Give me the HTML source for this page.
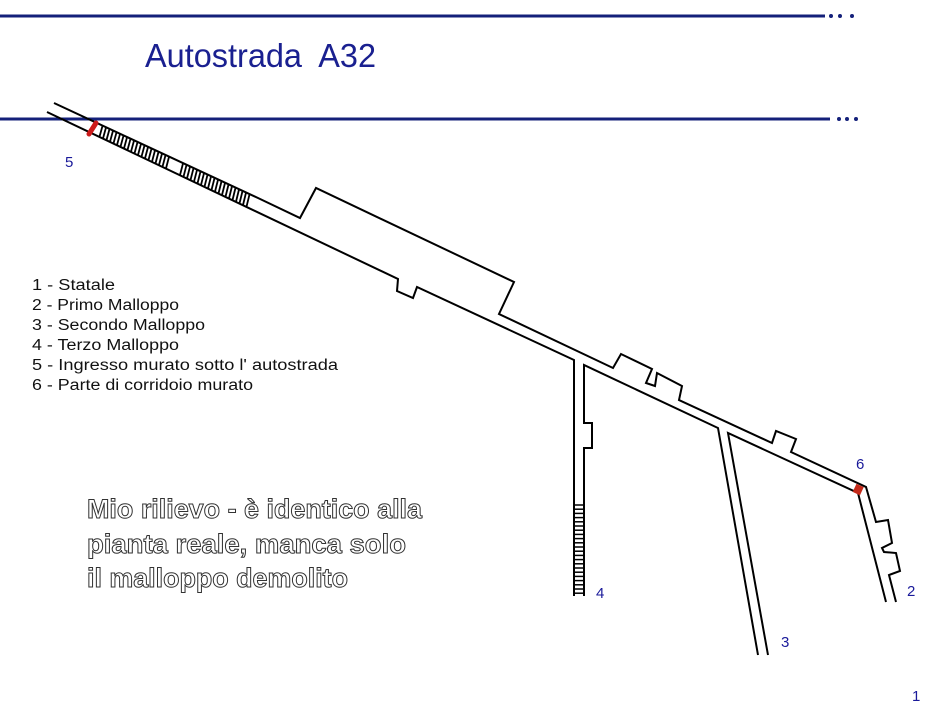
<!DOCTYPE html>
<html><head><meta charset="utf-8"><style>
html,body{margin:0;padding:0;background:#fff;}
svg{display:block;}
.leg{font-family:"Liberation Sans",sans-serif;font-size:15.5px;fill:#111;}
.num{font-family:"Liberation Sans",sans-serif;font-size:15px;fill:#1a1a9a;}
.out{font-family:"Liberation Sans",sans-serif;font-weight:bold;font-size:26.5px;fill:#fff;stroke:#333;stroke-width:1;}
</style></head><body>
<svg width="951" height="714" viewBox="0 0 951 714" xmlns="http://www.w3.org/2000/svg">
<rect width="951" height="714" fill="#fff"/>
<line x1="0" y1="16" x2="825" y2="16" stroke="#14207a" stroke-width="3"/>
<circle cx="831" cy="16" r="2" fill="#14207a"/><circle cx="840" cy="16" r="2" fill="#14207a"/><circle cx="852" cy="16" r="2" fill="#14207a"/>
<line x1="0" y1="119" x2="830" y2="119" stroke="#14207a" stroke-width="3"/>
<circle cx="839" cy="119" r="2" fill="#14207a"/><circle cx="847" cy="119" r="2" fill="#14207a"/><circle cx="856" cy="119" r="2" fill="#14207a"/>
<text x="145" y="67" font-family="Liberation Sans, sans-serif" font-size="33" fill="#1a2090" textLength="231" lengthAdjust="spacingAndGlyphs" xml:space="preserve">Autostrada  A32</text>

<g fill="none" stroke="#000" stroke-width="2" stroke-linejoin="miter">
<polyline points="54,103 258,198 300,218 316,188 514,282 499,314 613,368 621,354 652,369 646,383 655,386 657,373 682,386 679,400 772,443 776,431 796,439 791,452 866,487 876,522 888,520 892,543 882,548 884,552 896,553 900,571 889,575 896,602"/>
<polyline points="47,112 398,279 397,291 413,298 417,287 574,360 574,596"/>
<polyline points="584,596 584,448 592,448 592,423 584,423 584,365 718,428 758,655"/>
<polyline points="768,655 728,433 858,493 886,602"/>
</g>
<g id="rungs" stroke="#000" stroke-width="1.8"></g>
<g stroke="#000" stroke-width="1.5" id="r4"></g>
<line x1="96" y1="123" x2="89" y2="134" stroke="#cc1a1a" stroke-width="5" stroke-linecap="round"/>
<rect x="854" y="485" width="8" height="9" fill="#c42a1a" transform="rotate(25 858 490)"/>

<text class="leg" x="32" y="290" textLength="83" lengthAdjust="spacingAndGlyphs">1 - Statale</text>
<text class="leg" x="32" y="310" textLength="147" lengthAdjust="spacingAndGlyphs">2 - Primo Malloppo</text>
<text class="leg" x="32" y="330" textLength="173" lengthAdjust="spacingAndGlyphs">3 - Secondo Malloppo</text>
<text class="leg" x="32" y="350" textLength="147" lengthAdjust="spacingAndGlyphs">4 - Terzo Malloppo</text>
<text class="leg" x="32" y="370" textLength="306" lengthAdjust="spacingAndGlyphs">5 - Ingresso murato sotto l' autostrada</text>
<text class="leg" x="32" y="390" textLength="221" lengthAdjust="spacingAndGlyphs">6 - Parte di corridoio murato</text>

<text class="num" x="65" y="167">5</text>
<text class="num" x="856" y="469">6</text>
<text class="num" x="596" y="598">4</text>
<text class="num" x="781" y="647">3</text>
<text class="num" x="907" y="596">2</text>
<text class="num" x="912" y="701">1</text>

<text class="out" x="87" y="518" textLength="335" lengthAdjust="spacingAndGlyphs">Mio rilievo - è identico alla</text>
<text class="out" x="87" y="553" textLength="319" lengthAdjust="spacingAndGlyphs">pianta reale, manca solo</text>
<text class="out" x="87" y="587" textLength="261" lengthAdjust="spacingAndGlyphs">il malloppo demolito</text>
</svg>
<script>
(function(){
var ns="http://www.w3.org/2000/svg";
var g=document.getElementById("rungs");
for(var x=101;x<=250;x+=3.5){
 if(x>170&&x<181)continue;
 var yu=103+(x-54)*0.466, yl=112+(x-47)*0.476;
 var l=document.createElementNS(ns,"line");
 l.setAttribute("x1",x+1.5);l.setAttribute("y1",yu+1);
 l.setAttribute("x2",x-1.5);l.setAttribute("y2",yl-1);
 g.appendChild(l);
}
var g4=document.getElementById("r4");
for(var y=505;y<=595;y+=4.2){
 var l=document.createElementNS(ns,"line");
 l.setAttribute("x1",574);l.setAttribute("y1",y);
 l.setAttribute("x2",584);l.setAttribute("y2",y);
 g4.appendChild(l);
}
})();
</script>
</body></html>
